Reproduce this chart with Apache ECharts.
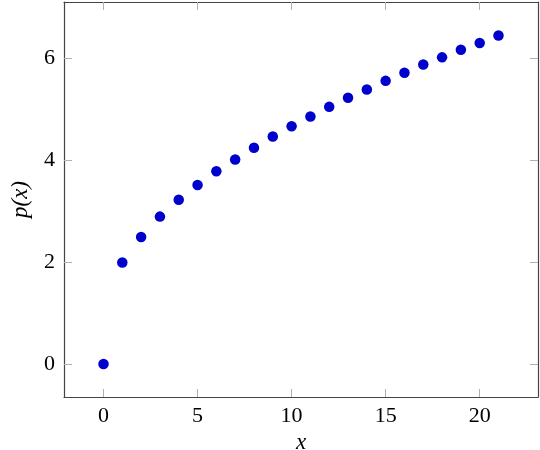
<!DOCTYPE html>
<html>
<head>
<meta charset="utf-8">
<script src="https://cdn.jsdelivr.net/npm/echarts@6/dist/echarts.min.js"></script>
<style>html,body{margin:0;padding:0;background:#fff}#c{width:540px;height:450px}</style>
</head>
<body>
<div id="c"></div>
<script>
const xValues = [0, 1, 2, 3, 4, 5, 6, 7, 8, 9, 10, 11, 12, 13, 14, 15, 16, 17, 18, 19, 20, 21];
const pValues = [0, 1.99, 2.49, 2.89, 3.22, 3.51, 3.78, 4.01, 4.24, 4.46, 4.66, 4.85, 5.04, 5.22, 5.38, 5.55, 5.71, 5.87, 6.01, 6.16, 6.29, 6.44];
const xTicks = [0, 5, 10, 15, 20];
const yTicks = [0, 2, 4, 6];

const font = '"Liberation Serif", "DejaVu Serif", serif';
const frameColor = '#444';
const tickColor = '#b0b0b0';

function xAx(pos, show) {
  return {
    type: 'value', position: pos, min: -2.1, max: 23.1,
    axisLine: { show: true, onZero: false, lineStyle: { color: frameColor, width: 1.2 } },
    axisTick: { show: true, inside: true, length: 8, customValues: xTicks, lineStyle: { color: tickColor, width: 1 } },
    axisLabel: { show: show, customValues: xTicks, color: '#000', fontFamily: font, fontSize: 22, margin: 8 },
    splitLine: { show: false },
    name: show ? 'x' : '', nameLocation: 'middle', nameGap: 29,
    nameTextStyle: { fontFamily: font, fontSize: 23, fontStyle: 'italic', color: '#000' }
  };
}
function yAx(pos, show) {
  return {
    type: 'value', position: pos, min: -0.645, max: 7.095,
    axisLine: { show: true, onZero: false, lineStyle: { color: frameColor, width: 1.2 } },
    axisTick: { show: true, inside: true, length: 8, customValues: yTicks, lineStyle: { color: tickColor, width: 1 } },
    axisLabel: { show: show, customValues: yTicks, color: '#000', fontFamily: font, fontSize: 22, margin: 9 },
    splitLine: { show: false },
    name: show ? 'p(x)' : '', nameLocation: 'middle', nameGap: 32, nameRotate: 90,
    nameTextStyle: { fontFamily: font, fontSize: 23, fontStyle: 'italic', color: '#000' }
  };
}

const chart = echarts.init(document.getElementById('c'), null, { renderer: 'canvas' });
chart.setOption({
  animation: false,
  backgroundColor: '#fff',
  grid: { left: 64, right: 2, top: 2, bottom: 53, containLabel: false, outerBoundsMode: 'none' },
  xAxis: [xAx('bottom', true), xAx('top', false)],
  yAxis: [yAx('left', true), yAx('right', false)],
  series: [{
    type: 'scatter',
    xAxisIndex: 0, yAxisIndex: 0,
    symbol: 'circle', symbolSize: 10.5,
    itemStyle: { color: '#0000cc', opacity: 1 },
    data: xValues.map((x, i) => [x, pValues[i]])
  }]
});
</script>
</body>
</html>
